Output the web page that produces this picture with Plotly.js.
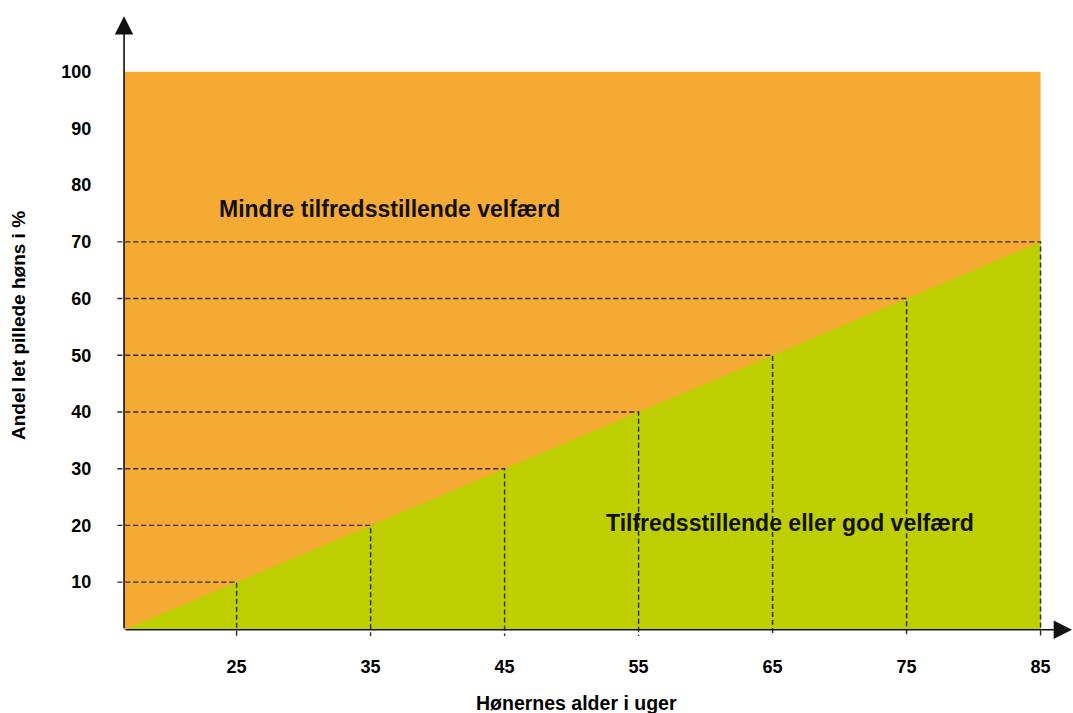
<!DOCTYPE html>
<html>
<head>
<meta charset="utf-8">
<script src="https://cdn.plot.ly/plotly-3.0.1.min.js"></script>
<style>html,body{margin:0;padding:0;background:#fff}#chart{width:1073px;height:713px}</style>
</head>
<body>
<div id="chart"></div>
<script>
// Data
const ages = [25, 35, 45, 55, 65, 75, 85];          // Hønernes alder i uger
const shares = [10, 20, 30, 40, 50, 60, 70];        // grænse: andel let pillede høns i %
const xTickVals = [25, 35, 45, 55, 65, 75, 85];
const yTickVals = [10, 20, 30, 40, 50, 60, 70, 80, 90, 100];
const topShare = 100;
const originX = 16.6;   // where the drawn axes cross
const originY = 1.6;
const labelTop = 'Mindre tilfredsstillende velfærd';
const labelBottom = 'Tilfredsstillende eller god velfærd';
const xTitle = 'Hønernes alder i uger';
const yTitle = 'Andel let pillede høns i %';

const ORANGE = '#F5AA34';
const GREEN = '#BDCF00';
const FONT = 'Liberation Sans, Arial, sans-serif';

const xRange = [16.0, 87.42];
const yRange = [0.5, 110];
const lastAge = ages[ages.length - 1];

const orange = {
  x: [originX, lastAge, lastAge, originX],
  y: [originY, originY, topShare, topShare],
  type: 'scatter', mode: 'lines', fill: 'toself',
  fillcolor: ORANGE, line: {width: 0}, hoverinfo: 'skip', showlegend: false
};
const green = {
  x: [originX].concat(ages, [lastAge]),
  y: [originY].concat(shares, [originY]),
  type: 'scatter', mode: 'lines', fill: 'toself',
  fillcolor: GREEN, line: {width: 0}, hoverinfo: 'skip', showlegend: false
};
const dx = [], dy = [];
ages.forEach((a, i) => {
  dx.push(16.1, a, a, null);
  dy.push(shares[i], shares[i], yRange[0], null);
});
const dashed = {
  x: dx, y: dy, type: 'scatter', mode: 'lines',
  line: {color: '#2a2a2a', width: 1.4, dash: '5px,3px'},
  hoverinfo: 'skip', showlegend: false, connectgaps: false
};

const layout = {
  width: 1073, height: 713,
  margin: {l: 116, r: 0, t: 14.5, b: 76.8, pad: 0},
  paper_bgcolor: '#fff', plot_bgcolor: '#fff',
  showlegend: false,
  font: {family: FONT, color: '#000'},
  xaxis: {
    range: xRange, showgrid: false, zeroline: false, showline: false,
    tickmode: 'array', tickvals: xTickVals, ticktext: xTickVals.map(String),
    ticks: 'outside', ticklen: 14, tickcolor: 'rgba(0,0,0,0)',
    tickfont: {family: FONT, size: 18, color: '#000', weight: 'bold'},
    title: {text: ''}
  },
  yaxis: {
    range: yRange, showgrid: false, zeroline: false, showline: false,
    tickmode: 'array', tickvals: yTickVals, ticktext: yTickVals.map(String),
    ticks: 'outside', ticklen: 20, tickcolor: 'rgba(0,0,0,0)',
    tickfont: {family: FONT, size: 18, color: '#000', weight: 'bold'},
    title: {text: '<b>' + yTitle + '</b>', font: {family: FONT, size: 19, color: '#000'}, standoff: 30}
  },
  annotations: [
    {x: originX, y: 109.8, ax: originX, ay: originY, xref: 'x', yref: 'y', axref: 'x', ayref: 'y',
     text: '', showarrow: true, arrowhead: 2, arrowsize: 2.3, arrowwidth: 1.6, arrowcolor: '#111'},
    {x: 87.35, y: originY, ax: originX, ay: originY, xref: 'x', yref: 'y', axref: 'x', ayref: 'y',
     text: '', showarrow: true, arrowhead: 2, arrowsize: 2.3, arrowwidth: 1.6, arrowcolor: '#111'},
    {x: 23.54, y: 75.75, xref: 'x', yref: 'y', xanchor: 'left', yanchor: 'middle', showarrow: false,
     text: '<b>' + labelTop + '</b>', font: {family: FONT, size: 23, color: '#111'}},
    {x: 52.42, y: 20.45, xref: 'x', yref: 'y', xanchor: 'left', yanchor: 'middle', showarrow: false,
     text: '<b>' + labelBottom + '</b>', font: {family: FONT, size: 23, color: '#111'}},
    {x: 0.4807, y: -0.1074, xref: 'paper', yref: 'paper', xanchor: 'center', yanchor: 'middle', showarrow: false,
     text: '<b>' + xTitle + '</b>', font: {family: FONT, size: 19.5, color: '#000'}}
  ]
};

Plotly.newPlot('chart', [orange, green, dashed], layout, {displayModeBar: false, staticPlot: true});
</script>
</body>
</html>
